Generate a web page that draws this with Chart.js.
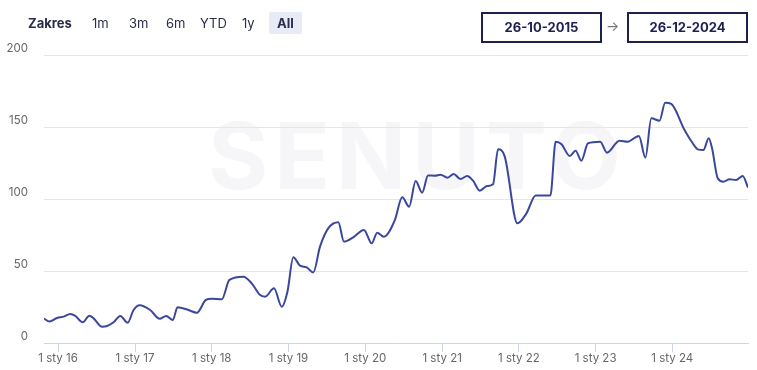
<!DOCTYPE html>
<html>
<head>
<meta charset="utf-8">
<script src="https://cdn.jsdelivr.net/npm/chart.js@4.4.1/dist/chart.umd.min.js"></script>
<style>
    html, body { margin: 0; padding: 0; background: #fff; }
    body { width: 757px; height: 370px; position: relative; overflow: hidden; font-family: Inter, "Open Sans", sans-serif; }
    #wm { position: absolute; left: 208px; top: 100px; font-size: 92px; font-weight: 700; color: #f6f6f8; letter-spacing: 6px; white-space: nowrap; }
    canvas { position: absolute; left: 0; top: 0; }
    .zoom { position: absolute; top: 12px; height: 22px; line-height: 22px; font-size: 13px; color: #2b2e4a; }
    .zoom span { position: absolute; top: 0; white-space: nowrap; }
    .zoom .lbl { font-weight: 700; }
    .zoom .on { background: #e6ebf5; font-weight: 700; padding: 0 8px; border-radius: 2px; }
    .date { position: absolute; top: 12px; width: 117px; height: 27px; border: 2px solid #1d2150; box-sizing: content-box;
            font-size: 13px; font-weight: 700; color: #1d2150; text-align: center; line-height: 27px; }
    #arrow { position: absolute; left: 606px; top: 17px; font-size: 14px; color: #777; }
</style>
</head>
<body>
<div id="wm">SENUTO</div>
<canvas id="chart" width="757" height="370"></canvas>
<div class="zoom">
    <span class="lbl" style="left:28px">Zakres</span>
    <span style="left:92px">1m</span>
    <span style="left:129px">3m</span>
    <span style="left:166px">6m</span>
    <span style="left:200px">YTD</span>
    <span style="left:242px">1y</span>
    <span class="on" style="left:269px">All</span>
</div>
<div class="date" style="left:481px">26-10-2015</div>
<div id="arrow">→</div>
<div class="date" style="left:627px">26-12-2024</div>
<script>
var dates = [
    '2015-10-26', '2015-11-21', '2015-12-27', '2016-01-28', '2016-02-28', '2016-03-23', '2016-04-27', '2016-05-29',
    '2016-06-18', '2016-07-28', '2016-08-21', '2016-09-21', '2016-10-23', '2016-11-27', '2016-12-25', '2017-01-23',
    '2017-03-14', '2017-04-28', '2017-05-29', '2017-06-30', '2017-07-22', '2017-09-12', '2017-10-22', '2017-12-04',
    '2018-01-01', '2018-02-18', '2018-03-26', '2018-06-01', '2018-07-10', '2018-08-19', '2018-09-12', '2018-10-24',
    '2018-11-30', '2018-12-27', '2019-01-24', '2019-02-25', '2019-03-29', '2019-04-29', '2019-05-31', '2019-07-09',
    '2019-08-26', '2019-09-22', '2019-11-05', '2019-12-26', '2020-02-01', '2020-02-27', '2020-03-30', '2020-05-21',
    '2020-06-25', '2020-07-28', '2020-08-28', '2020-09-28', '2020-10-26', '2020-11-27', '2020-12-24', '2021-01-27',
    '2021-02-25', '2021-03-29', '2021-04-30', '2021-05-28', '2021-06-29', '2021-08-03', '2021-08-31', '2021-09-24',
    '2021-10-26', '2021-12-25', '2022-02-06', '2022-03-22', '2022-05-31', '2022-06-25', '2022-07-22', '2022-08-31',
    '2022-09-28', '2022-10-25', '2022-11-26', '2023-01-23', '2023-02-24', '2023-04-25', '2023-06-03', '2023-07-26',
    '2023-08-26', '2023-09-23', '2023-11-01', '2023-11-28', '2023-12-27', '2024-02-28', '2024-04-07', '2024-05-01',
    '2024-05-28', '2024-06-22', '2024-07-08', '2024-08-04', '2024-08-31', '2024-09-29', '2024-10-30', '2024-12-01',
    '2024-12-26'
];
var values = [
    17, 15, 17.4, 18.3, 20.1, 18.8, 14.4, 19,
    17.1, 11.3, 11.8, 14.4, 18.8, 14.1, 22.9, 26.2,
    22.9, 16.9, 18.8, 16, 24.8, 22.9, 21, 29.9,
    30.8, 30.3, 43.8, 46, 41.4, 33.3, 32.2, 38,
    25.2, 35.6, 59.5, 53.7, 52.5, 49, 66.9, 79.6,
    83.8, 70.4, 73.4, 78.5, 69.2, 76.6, 73.8, 85.4,
    101.2, 94.7, 112.5, 104.4, 116.4, 116.2, 116.9, 114.8,
    117.4, 113.9, 116, 112.7, 105.8, 109, 110.2, 134.5,
    129.4, 83.1, 90, 102.5, 102.5, 139.8, 138.2, 129.9,
    133.5, 126.6, 138.7, 139.8, 132.2, 140.5, 139.8, 143.8,
    128.7, 156, 154.4, 166.9, 166, 147.9, 138.7, 134.5,
    134, 142.2, 135.2, 114.4, 112, 113.7, 113.2, 116,
    107.9
];
var tickDates = ['2016-01-01', '2017-01-01', '2018-01-01', '2019-01-01', '2020-01-01',
                 '2021-01-01', '2022-01-01', '2023-01-01', '2024-01-01'];
var tickLabels = ['1 sty 16', '1 sty 17', '1 sty 18', '1 sty 19', '1 sty 20',
                  '1 sty 21', '1 sty 22', '1 sty 23', '1 sty 24'];
var rangeStart = '2015-10-26';
var rangeEnd = '2024-12-26';

var points = dates.map(function (d, i) { return { x: Date.parse(d), y: values[i] }; });
var tickMs = tickDates.map(function (d) { return Date.parse(d); });

new Chart(document.getElementById('chart'), {
    type: 'line',
    data: {
        datasets: [{
            data: points,
            borderColor: '#3b479d',
            borderWidth: 2,
            pointRadius: 0,
            fill: false,
            cubicInterpolationMode: 'monotone'
        }]
    },
    options: {
        responsive: false,
        animation: false,
        layout: { padding: { top: 55, right: 9, left: 0, bottom: 0 } },
        plugins: { legend: { display: false }, tooltip: { enabled: false } },
        scales: {
            x: {
                type: 'linear',
                min: Date.parse(rangeStart),
                max: Date.parse(rangeEnd),
                afterBuildTicks: function (scale) {
                    scale.ticks = tickMs.map(function (v) { return { value: v }; });
                },
                afterFit: function (scale) { scale.height = 27; },
                grid: { drawOnChartArea: false, drawTicks: true, tickLength: 9, color: '#ccd6eb' },
                border: { color: '#ccd6eb' },
                ticks: {
                    padding: 0,
                    maxRotation: 0,
                    autoSkip: false,
                    color: '#666',
                    font: { family: 'Inter', size: 11.5 },
                    callback: function (v) {
                        var i = tickMs.indexOf(v);
                        return i >= 0 ? tickLabels[i] : '';
                    }
                }
            },
            y: {
                min: 0,
                max: 200,
                afterFit: function (scale) { scale.width = 44; },
                grid: { color: '#e6e6e6', drawTicks: false },
                border: { display: false },
                ticks: {
                    stepSize: 50,
                    padding: 16,
                    labelOffset: -6,
                    color: '#666',
                    font: { family: 'Inter', size: 11.5 }
                }
            }
        }
    }
});
</script>
</body>
</html>
